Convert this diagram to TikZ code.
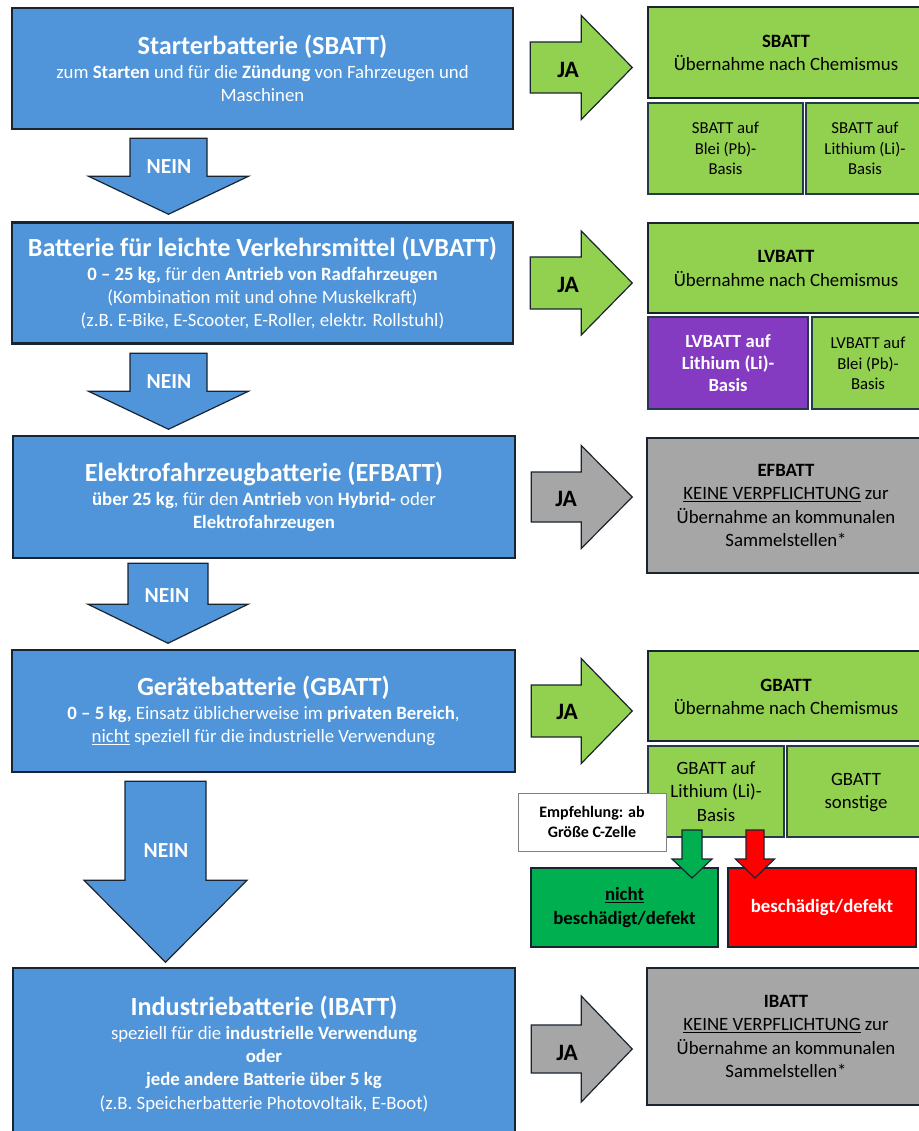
\documentclass[tikz,border=0pt]{standalone}
\usepackage{fontspec}
\setmainfont{Carlito}
\usepackage{tikz}
\usetikzlibrary{calc}
\usepackage{xcolor}

\definecolor{battblue}{RGB}{80,149,217}
\definecolor{battgreen}{RGB}{146,208,80}
\definecolor{battgray}{RGB}{166,166,166}
\definecolor{battpurple}{RGB}{133,58,194}
\definecolor{okgreen}{RGB}{0,176,80}
\definecolor{badred}{RGB}{255,0,0}
\definecolor{rim}{RGB}{26,36,48}
\definecolor{subrim}{RGB}{38,58,78}

\newcommand{\bodyfs}{\fontsize{18.8}{23.2}\selectfont}
\newcommand{\titlefs}{\fontsize{26.2}{31}\selectfont\bfseries}
\newcommand{\subfs}{\fontsize{16.7}{20.5}\selectfont}

\begin{document}
\begin{tikzpicture}[x=1pt,y=-1pt]

\def\lwblk{2.5pt}
\def\lwarr{1.2pt}
\tikzset{
pics/downarr/.style n args={5}{
code = {
		\draw[fill=#5,draw=rim,line width=\lwarr] (-#1,0) -- (#1,0) -- (#1,#3) -- (#2,#3) -- (0,#4) -- (-#2,#3) -- (-#1,#3) -- cycle;
}
},
pics/rightarr/.style n args={5}{
code = {
		\draw[fill=#5,draw=rim,line width=\lwarr] (0,-#1) -- (#3,-#1) -- (#3,-#2) -- (#4,0) -- (#3,#2) -- (#3,#1) -- (0,#1) -- cycle;
}
},
bluebox/.style={draw=rim,line width=\lwblk,fill=battblue,text=white,align=center,inner sep=0pt,minimum width=501pt,minimum height=121pt,font=\bodyfs},
greenbox/.style={draw=rim,line width=\lwblk,fill=battgreen,inner sep=0pt,minimum width=292pt},
graybox/.style={draw=rim,line width=\lwblk,fill=battgray,inner sep=0pt,minimum width=293pt},
subbox/.style={draw=subrim,line width=2pt,fill=battgreen,align=center,inner sep=0pt,font=\subfs},
boxtext/.style={align=center,inner sep=0pt,font=\bodyfs},
jatext/.style={inner sep=0pt,font=\fontsize{23.5}{27}\selectfont\bfseries},
neintext/.style={inner sep=0pt,text=white,font=\fontsize{21.5}{25}\selectfont\bfseries}
}

\useasboundingbox (0,0) rectangle (918,1131);
\clip (-2,-2) rectangle (926,1136);
\fill[white] (-2,-2) rectangle (926,1136);

%\draw [help lines,step=50] (0,0) grid (918,1131);

% linke Spalte
\node[bluebox] (sbatt) at (262.5,68.5) {{\titlefs Starterbatterie (SBATT)}\\[1pt] zum \textbf{Starten} und für die \textbf{Zündung} von Fahrzeugen und\\ Maschinen};
\node[bluebox] (lvbatt) at (262.5,283) {{\titlefs Batterie für leichte Verkehrsmittel (LVBATT)}\\[1pt] \textbf{0 -- 25 kg,} für den \textbf{Antrieb von Radfahrzeugen}\\ (Kombination mit und ohne Muskelkraft)\\ (z.B. E-Bike, E-Scooter, E-Roller, elektr. Rollstuhl)};
\node[bluebox,minimum width=502pt,minimum height=122pt] (efbatt) at (264,497) {{\titlefs Elektrofahrzeugbatterie (EFBATT)}\\[1pt] \textbf{über 25 kg}, für den \textbf{Antrieb} von \textbf{Hybrid-} oder\\ \textbf{Elektrofahrzeugen}};
\node[bluebox,minimum width=503pt,minimum height=122pt] (gbatt) at (263.5,711) {{\titlefs Gerätebatterie (GBATT)}\\[1pt] \textbf{0 -- 5 kg,} Einsatz üblicherweise im \textbf{privaten Bereich},\\ \underline{nicht} speziell für die industrielle Verwendung};
\node[bluebox,minimum width=502pt,minimum height=172pt] (ibatt) at (264,1054) {{\titlefs Industriebatterie (IBATT)}\\[1pt] speziell für die \textbf{industrielle Verwendung}\\ \textbf{oder}\\ \textbf{jede andere Batterie über 5 kg}\\ (z.B. Speicherbatterie Photovoltaik, E-Boot)};

% rechte Spalte (laeuft rechts aus dem Bild)
\node[greenbox,minimum height=91pt] (sbattja) at (794,52.5) {};
\node[boxtext] at (786,53) {\textbf{SBATT}\\ Übernahme nach Chemismus};
\node[subbox,minimum width=155pt,minimum height=91pt] (sbattpb) at (725.5,148.5) {SBATT auf\\ Blei (Pb)-\\ Basis};
\node[subbox,minimum width=134pt,minimum height=91pt] (sbattli) at (873,148.5) {};
\node[boxtext,font=\subfs] at (865,148.5) {SBATT auf\\ Lithium (Li)-\\ Basis};

\node[greenbox,minimum height=90pt] (lvbattja) at (794,268) {};
\node[boxtext] at (786,268.5) {\textbf{LVBATT}\\ Übernahme nach Chemismus};
\node[subbox,fill=battpurple,text=white,font=\fontsize{18.6}{22}\selectfont\bfseries,minimum width=160pt,minimum height=92pt] (lvbattli) at (728,363) {LVBATT auf\\ Lithium (Li)-\\ Basis};
\node[subbox,minimum width=128pt,minimum height=92pt] (lvbattpb) at (876,363) {};
\node[boxtext,font=\subfs] at (868,363.5) {LVBATT auf\\ Blei (Pb)-\\ Basis};

\node[graybox,minimum height=135pt] (efbattja) at (793.5,505.5) {};
\node[boxtext] at (786,505.5) {\textbf{EFBATT}\\ \underline{KEINE VERPFLICHTUNG} zur\\ Übernahme an kommunalen\\ Sammelstellen*};

\node[greenbox,minimum height=90pt] (gbattja) at (794,696) {};
\node[boxtext] at (786,697) {\textbf{GBATT}\\ Übernahme nach Chemismus};
\node[subbox,font=\bodyfs,minimum width=136pt,minimum height=91pt] (gbattli) at (716,791.5) {GBATT auf\\ Lithium (Li)-\\ Basis};
\node[subbox,minimum width=153pt,minimum height=91pt] (gbattmisc) at (863.5,791.5) {};
\node[boxtext] at (856,792.5) {GBATT\\ sonstige};
\node[draw=gray,line width=1pt,fill=white,align=center,inner sep=0pt,minimum width=148pt,minimum height=58pt,font=\fontsize{16}{19.5}\selectfont\bfseries] (hint) at (592,822) {Empfehlung: ab\\ Größe C-Zelle};
\node[draw=rim,line width=\lwblk,fill=okgreen,align=center,inner sep=0pt,minimum width=187pt,minimum height=79pt,font=\bodyfs\bfseries] (intact) at (624.5,907.5) {\underline{nicht}\\ beschädigt/defekt};
\node[draw=rim,line width=\lwblk,fill=badred,text=white,align=center,inner sep=0pt,minimum width=188pt,minimum height=79pt,font=\bodyfs\bfseries] (broken) at (822,907.5) {beschädigt/defekt};

\node[graybox,minimum height=137pt] (ibattja) at (793.5,1036.5) {};
\node[boxtext] at (786,1036.5) {\textbf{IBATT}\\ \underline{KEINE VERPFLICHTUNG} zur\\ Übernahme an kommunalen\\ Sammelstellen*};

% Pfeile NEIN
\pic at ($(sbatt.south)+(-94,8)$) {downarr={38.5}{80}{38}{76}{battblue}};
\pic at ($(lvbatt.south)+(-94,8.5)$) {downarr={38.5}{80}{38}{76}{battblue}};
\pic at ($(efbatt.south)+(-96,4)$) {downarr={40}{80}{41}{80}{battblue}};
\pic at ($(gbatt.south)+(-98,8)$) {downarr={40.5}{81.5}{99}{181}{battblue}};

\node[neintext] (nein1) at (169,167) {NEIN};
\node[neintext] (nein2) at (169,381.5) {NEIN};
\node[neintext] (nein3) at (167,596) {NEIN};
\node[neintext] (nein4) at (166,851) {NEIN};

% Pfeile JA
\pic at ($(sbatt.east)+(16,-1)$) {rightarr={25.5}{52}{51}{102}{battgreen}};
\pic at ($(lvbatt.east)+(16,0)$) {rightarr={26}{52}{51}{102}{battgreen}};
\pic at ($(efbatt.east)+(15,0)$) {rightarr={25}{51.5}{50}{101}{battgray}};
\pic at ($(gbatt.east)+(15,0)$) {rightarr={26}{52.5}{50}{101}{battgreen}};
\pic at ($(ibatt.east)+(15,-5)$) {rightarr={24}{53}{50}{101}{battgray}};

\node[jatext] (ja1) at (568,70) {JA};
\node[jatext] (ja2) at (568,285) {JA};
\node[jatext] (ja3) at (566,499) {JA};
\node[jatext] (ja4) at (567,712) {JA};
\node[jatext] (ja5) at (567,1053) {JA};

% kleine Pfeile
\pic at ($(gbattli.south)+(-24,-8)$) {downarr={10}{20}{29}{48}{okgreen}};
\pic at ($(gbattli.south)+(39,-8)$) {downarr={9}{19.5}{29}{48}{badred}};

\end{tikzpicture}
\end{document}
